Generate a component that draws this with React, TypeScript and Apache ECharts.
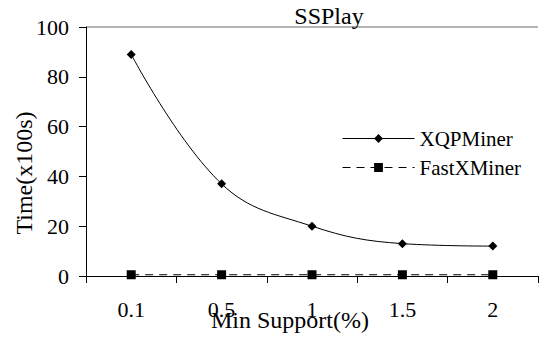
import React, { useEffect, useRef } from "react";
import * as echarts from "echarts";

const categories = ["0.1", "0.5", "1", "1.5", "2"];
const xqpMiner = [89, 37, 20, 13, 12];
const fastXMiner = [0.5, 0.5, 0.5, 0.5, 0.5];
const yTicks = { min: 0, max: 100, interval: 20 };

const FONT = "Liberation Serif, Times New Roman, serif";

export default function App() {
  const ref = useRef<HTMLDivElement>(null);

  useEffect(() => {
    if (!ref.current) return;
    const chart = echarts.init(ref.current, null, { renderer: "svg" });
    chart.setOption({
      animation: false,
      backgroundColor: "#ffffff",
      textStyle: { fontFamily: FONT, color: "#000" },
      title: {
        text: "SSPlay",
        left: 324,
        top: -1,
        textAlign: "center",
        textStyle: { fontFamily: FONT, fontSize: 24, fontWeight: "normal", color: "#000" },
      },
      legend: {
        orient: "vertical",
        left: 337,
        top: 123,
        itemWidth: 72,
        itemHeight: 11,
        itemGap: 8,
        lineStyle: { width: 1 },
        textStyle: { fontFamily: FONT, fontSize: 21, color: "#000" },
        data: ["XQPMiner", "FastXMiner"],
      },
      grid: { left: 86, right: 1, top: 27, bottom: 74, containLabel: false, outerBoundsMode: "none" },
      xAxis: {
        type: "category",
        data: categories,
        boundaryGap: true,
        axisLine: { lineStyle: { color: "#000", width: 1 } },
        axisTick: { show: true, length: 7, interval: 0, lineStyle: { color: "#000" } },
        axisLabel: { fontFamily: FONT, fontSize: 22, color: "#000", margin: 22 },
        name: "Min Support(%)",
        nameLocation: "middle",
        nameGap: 32,
        nameMoveOverlap: false,
        nameTextStyle: { fontFamily: FONT, fontSize: 24, color: "#000", padding: [0, 44, 0, 0] },
      },
      yAxis: {
        type: "value",
        min: yTicks.min,
        max: yTicks.max,
        interval: yTicks.interval,
        axisLine: { show: true, lineStyle: { color: "#000", width: 1 } },
        axisTick: { show: true, length: 7, lineStyle: { color: "#000" } },
        axisLabel: { fontFamily: FONT, fontSize: 22, color: "#000", margin: 17 },
        splitLine: {
          show: true,
          lineStyle: {
            color: [
              "rgba(0,0,0,0)",
              "rgba(0,0,0,0)",
              "rgba(0,0,0,0)",
              "rgba(0,0,0,0)",
              "rgba(0,0,0,0)",
              "#b4b4b4",
            ],
            width: 2,
          },
        },
        name: "Time(x100s)",
        nameLocation: "middle",
        nameGap: 50,
        nameMoveOverlap: false,
        nameTextStyle: { fontFamily: FONT, fontSize: 24, color: "#000", padding: [0, 43, 0, 0] },
      },
      series: [
        {
          name: "XQPMiner",
          type: "line",
          data: xqpMiner,
          smooth: 0.4,
          symbol: "diamond",
          symbolSize: 9,
          itemStyle: { color: "#000" },
          lineStyle: { color: "#000", width: 1 },
        },
        {
          name: "FastXMiner",
          type: "line",
          data: fastXMiner,
          symbol: "rect",
          symbolSize: 9,
          itemStyle: { color: "#000" },
          lineStyle: { color: "#000", width: 1, type: [8, 6] },
        },
      ],
    });
    return () => chart.dispose();
  }, []);

  return <div ref={ref} style={{ width: 539, height: 350, position: "absolute", left: 0, top: 0 }} />;
}
